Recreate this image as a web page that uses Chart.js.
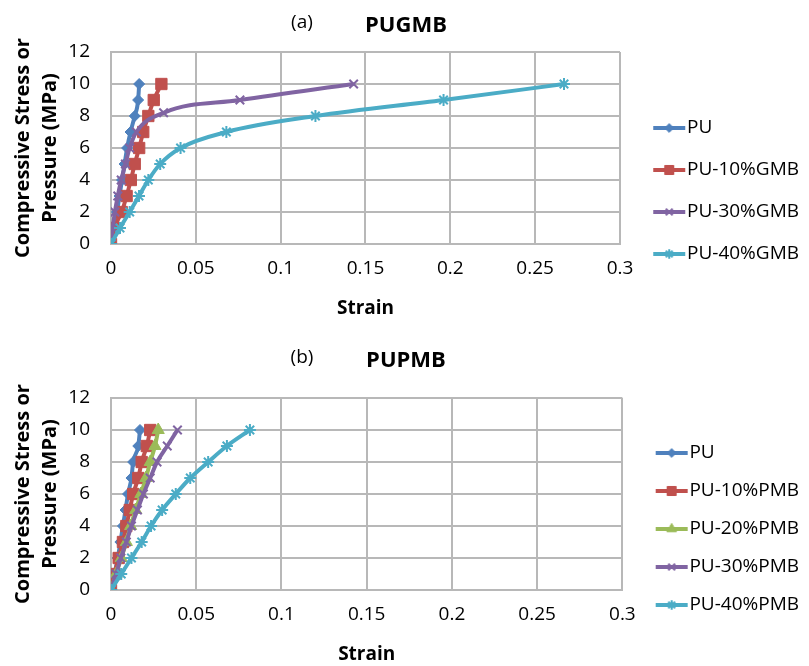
<!DOCTYPE html>
<html>
<head>
<meta charset="utf-8">
<title>PUGMB / PUPMB compression</title>
<script src="https://cdn.jsdelivr.net/npm/chart.js"></script>
<style>
  html, body { margin: 0; padding: 0; background: #fff; }
  #wrap { position: relative; width: 809px; height: 666px; overflow: hidden; }
  .box { position: absolute; left: 0; }
  #boxA { top: 0; }
  #boxB { top: 330px; }
</style>
</head>
<body>
<div id="wrap">
  <div class="box" id="boxA"><canvas id="chartA" width="809" height="330"></canvas></div>
  <div class="box" id="boxB"><canvas id="chartB" width="809" height="336"></canvas></div>
</div>
<script>
// axis ticks
const strainTicks = [0, 0.05, 0.1, 0.15, 0.2, 0.25, 0.3];
const stressTicks = [0, 2, 4, 6, 8, 10, 12];

// stress levels (MPa) recorded for most runs
const stressSteps = [0, 1, 2, 3, 4, 5, 6, 7, 8, 9, 10];

// (a) PUGMB
const gmbLabels = ['PU', 'PU-10%GMB', 'PU-30%GMB', 'PU-40%GMB'];
const gmbStrainPU = [0, 0.0018, 0.0035, 0.005, 0.0065, 0.008, 0.0095, 0.0115, 0.014, 0.016, 0.0166];
const gmbStrain10 = [0, 0.002, 0.0063, 0.0092, 0.0117, 0.014, 0.0166, 0.019, 0.022, 0.0252, 0.0297];
const gmbStrain30 = [0, 0.001, 0.0023, 0.004, 0.006, 0.0085, 0.011, 0.015, 0.031, 0.076, 0.143];
const gmbStress30 = [0, 1, 2, 3, 4, 5, 6, 7, 8.2, 9, 10];
const gmbStrain40 = [0, 0.0053, 0.011, 0.0165, 0.022, 0.029, 0.041, 0.068, 0.1205, 0.196, 0.267];

// (b) PUPMB
const pmbLabels = ['PU', 'PU-10%PMB', 'PU-20%PMB', 'PU-30%PMB', 'PU-40%PMB'];
const pmbStrainPU = [0, 0.002, 0.004, 0.0055, 0.007, 0.0085, 0.010, 0.012, 0.013, 0.016, 0.017];
const pmbStrain10 = [0, 0.002, 0.0045, 0.007, 0.009, 0.011, 0.013, 0.016, 0.018, 0.021, 0.023];
const pmbStrain20 = [0, 0.003, 0.006, 0.009, 0.0115, 0.0145, 0.0175, 0.0205, 0.023, 0.0258, 0.0277];
const pmbStrain30 = [0, 0.003, 0.0058, 0.009, 0.012, 0.0155, 0.019, 0.023, 0.027, 0.033, 0.039];
const pmbStrain40 = [0, 0.006, 0.012, 0.018, 0.0235, 0.030, 0.038, 0.0465, 0.057, 0.068, 0.0815];

const FONT = '"Open Sans", "Liberation Sans", sans-serif';
const GRID = '#b8b8b8';

// marker looks, Excel 2007 palette
const lookPU = { color: '#4F81BD', style: 'rectRot', radius: 5.5, filled: true };
const look10 = { color: '#C0504D', style: 'rect', radius: 8, filled: true };
const look20 = { color: '#9BBB59', style: 'triangle', radius: 7, filled: true };
const look30 = { color: '#8064A2', style: 'crossRot', radius: 6, filled: false };
const look40 = { color: '#4BACC6', style: 'star', radius: 6, filled: false };

function makeDataset(label, strain, stress, look, order) {
  return {
    label: label,
    data: strain.map((x, i) => ({ x: x, y: stress[i] })),
    borderColor: look.color,
    backgroundColor: look.color,
    borderWidth: 4,
    pointStyle: look.style,
    pointRadius: look.radius,
    pointHoverRadius: look.radius,
    pointBackgroundColor: look.color,
    pointBorderColor: look.color,
    pointBorderWidth: look.filled ? 1 : 2,
    cubicInterpolationMode: 'monotone',
    order: order
  };
}

// little line + marker picture for the legend
function makeIcon(look, width) {
  const c = document.createElement('canvas');
  c.width = width;
  c.height = 20;
  const g = c.getContext('2d');
  g.strokeStyle = look.color;
  g.fillStyle = look.color;
  g.lineWidth = 4;
  g.beginPath();
  g.moveTo(width - 33, 10);
  g.lineTo(width - 1, 10);
  g.stroke();
  g.lineWidth = look.filled ? 1 : 2;
  Chart.helpers.drawPoint(g, { pointStyle: look.style, radius: look.radius * 0.8, rotation: 0, borderWidth: look.filled ? 1 : 2 }, width - 17, 10);
  return c;
}

// "(a)   PUGMB" heading
const headerPlugin = {
  id: 'header',
  afterDraw(chart, args, opts) {
    const ctx = chart.ctx;
    ctx.save();
    ctx.fillStyle = '#000';
    ctx.textAlign = 'center';
    ctx.textBaseline = 'middle';
    ctx.font = '19px ' + FONT;
    ctx.fillText(opts.tag, opts.tagX, opts.tagY);
    ctx.font = 'bold 22px ' + FONT;
    ctx.fillText(opts.name, opts.nameX, opts.nameY);
    ctx.restore();
  }
};

function buildChart(canvasId, datasets, icons, cfg) {
  const ctx = document.getElementById(canvasId).getContext('2d');
  return new Chart(ctx, {
    type: 'line',
    data: { datasets: datasets },
    options: {
      responsive: false,
      animation: false,
      layout: { padding: { top: cfg.padTop, right: 0, bottom: 0, left: 0 } },
      scales: {
        x: {
          type: 'linear',
          min: 0,
          max: 0.3,
          afterBuildTicks: (scale) => { scale.ticks = strainTicks.map(v => ({ value: v })); },
          afterFit: (scale) => { scale.height = cfg.xAxisHeight; },
          grid: { color: GRID, lineWidth: 2, drawTicks: false },
          border: { color: GRID, width: 2 },
          ticks: { padding: 13, color: '#000', font: { family: FONT, size: 19 }, callback: (v) => String(v) },
          title: {
            display: true, text: 'Strain', color: '#000',
            font: { family: FONT, size: 19, weight: 'bold' },
            padding: { top: 0, bottom: cfg.strainPadBottom }
          }
        },
        y: {
          type: 'linear',
          min: 0,
          max: 12,
          afterBuildTicks: (scale) => { scale.ticks = stressTicks.map(v => ({ value: v })); },
          afterFit: (scale) => { scale.width = 111; },
          grid: { color: GRID, lineWidth: 2, drawTicks: false },
          border: { color: GRID, width: 2 },
          ticks: { padding: 21, color: '#000', font: { family: FONT, size: 19 } },
          title: {
            display: true, text: ['Compressive Stress or', 'Pressure (MPa)'], color: '#000',
            font: { family: FONT, size: 20, weight: 'bold', lineHeight: 1.35 },
            padding: { top: 9.5, bottom: 0 }
          }
        }
      },
      plugins: {
        tooltip: { enabled: false },
        header: cfg.header,
        legend: {
          position: 'right',
          align: 'start',
          title: { display: true, text: '', font: { size: 1, lineHeight: 1 }, padding: { top: cfg.legendOffset, bottom: 0 } },
          labels: {
            usePointStyle: true,
            pointStyleWidth: cfg.iconBox,
            padding: cfg.legendGap,
            color: '#000',
            font: { family: FONT, size: 19 },
            generateLabels: (chart) => chart.data.datasets.map((ds, i) => ({
              text: ds.label,
              pointStyle: icons[i],
              fillStyle: ds.borderColor,
              strokeStyle: ds.borderColor,
              lineWidth: 0,
              hidden: false,
              fontColor: '#000',
              datasetIndex: i
            }))
          }
        }
      }
    },
    plugins: [headerPlugin]
  });
}

function drawAll() {
  const gmbLooks = [lookPU, look10, look30, look40];
  const gmbSets = [
    makeDataset(gmbLabels[0], gmbStrainPU, stressSteps, lookPU, 4),
    makeDataset(gmbLabels[1], gmbStrain10, stressSteps, look10, 3),
    makeDataset(gmbLabels[2], gmbStrain30, gmbStress30, look30, 2),
    makeDataset(gmbLabels[3], gmbStrain40, stressSteps, look40, 1)
  ];
  buildChart('chartA', gmbSets, gmbLooks.map(l => makeIcon(l, 52)), {
    padTop: 52,
    xAxisHeight: 86,
    strainPadBottom: 10,
    legendOffset: 42.5,
    legendGap: 23,
    iconBox: 34.5,
    header: { tag: '(a)', tagX: 302, tagY: 23, name: 'PUGMB', nameX: 406, nameY: 26 }
  });

  const pmbLooks = [lookPU, look10, look20, look30, look40];
  const pmbSets = [
    makeDataset(pmbLabels[0], pmbStrainPU, stressSteps, lookPU, 5),
    makeDataset(pmbLabels[1], pmbStrain10, stressSteps, look10, 4),
    makeDataset(pmbLabels[2], pmbStrain20, stressSteps, look20, 3),
    makeDataset(pmbLabels[3], pmbStrain30, stressSteps, look30, 2),
    makeDataset(pmbLabels[4], pmbStrain40, stressSteps, look40, 1)
  ];
  buildChart('chartB', pmbSets, pmbLooks.map(l => makeIcon(l, 56)), {
    padTop: 68,
    xAxisHeight: 76,
    strainPadBottom: 0,
    legendOffset: 25.5,
    legendGap: 19,
    iconBox: 38.5,
    header: { tag: '(b)', tagX: 302, tagY: 28, name: 'PUPMB', nameX: 406, nameY: 31 }
  });
}

Promise.all([
  document.fonts.load('19px "Open Sans"'),
  document.fonts.load('bold 19px "Open Sans"')
]).then(drawAll, drawAll);
</script>
</body>
</html>
